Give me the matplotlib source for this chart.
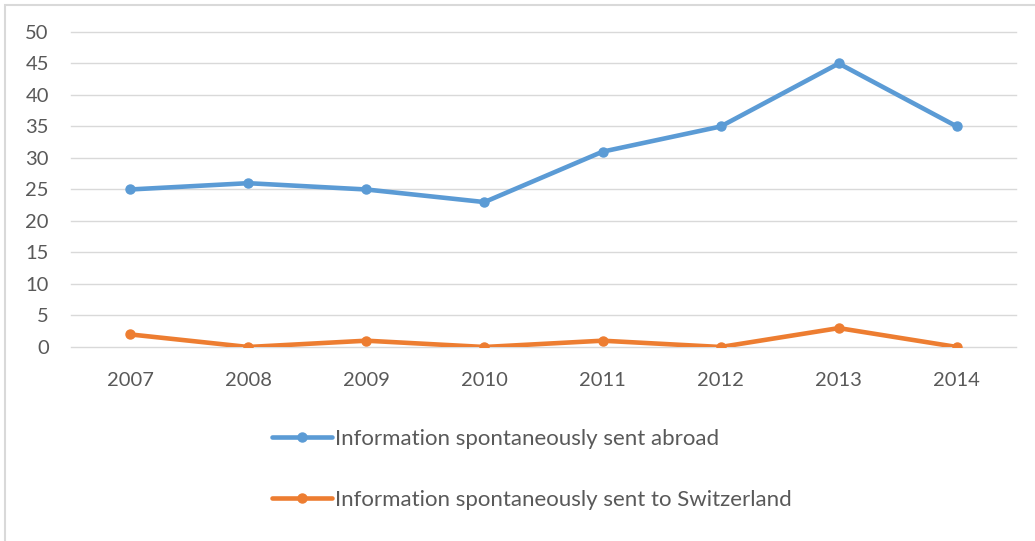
import matplotlib
matplotlib.use('Agg')
from matplotlib import pyplot as plt
from matplotlib.patches import Rectangle

years = ['2007', '2008', '2009', '2010', '2011', '2012', '2013', '2014']
sent_abroad = [25, 26, 25, 23, 31, 35, 45, 35]
sent_to_switzerland = [2, 0, 1, 0, 1, 0, 3, 0]

label_abroad = 'Information spontaneously sent abroad'
label_swiss = 'Information spontaneously sent to Switzerland'

plt.rcParams['font.family'] = ['Lato', 'DejaVu Sans']
text_color = '#595959'
blue = '#5b9bd5'
orange = '#ed7d31'

fig = plt.figure(figsize=(10.35, 5.41), dpi=100)
ax = fig.add_axes([0.0686, 0.3586, 0.9130, 0.5823])

x = list(range(len(years)))
l1, = ax.plot(x, sent_abroad, color=blue, lw=3.3, marker='o', ms=6.5, solid_capstyle='round')
l2, = ax.plot(x, sent_to_switzerland, color=orange, lw=3.3, marker='o', ms=6.5, solid_capstyle='round')

ax.set_xlim(-0.5, len(years) - 0.5)
ax.set_ylim(0, 50)
ax.set_yticks(range(0, 51, 5))
ax.set_xticks(x)
ax.set_xticklabels(years)
ax.grid(axis='y', color='#d9d9d9', lw=1)
for gl in ax.get_ygridlines():
    gl.set_clip_on(False)
ax.set_axisbelow(True)
for s in ax.spines.values():
    s.set_visible(False)
ax.tick_params(length=0, labelsize=14.5, colors=text_color)
ax.tick_params(axis='x', pad=18)
ax.tick_params(axis='y', pad=16)

fig.legend([l1], [label_abroad], loc='center left', bbox_to_anchor=(0.243, 1 - 439 / 541),
           frameon=False, fontsize=16, labelcolor=text_color, handlelength=2.7, handletextpad=0.15)
fig.legend([l2], [label_swiss], loc='center left', bbox_to_anchor=(0.243, 1 - 500 / 541),
           frameon=False, fontsize=16, labelcolor=text_color, handlelength=2.7, handletextpad=0.15)

fig.patches.append(Rectangle((5 / 1035, -0.01), 1.0, 1 - 5 / 541 + 0.01, transform=fig.transFigure,
                             fill=False, edgecolor='#d9d9d9', lw=1.5))

fig.savefig('out.png', dpi=100, facecolor='white')
